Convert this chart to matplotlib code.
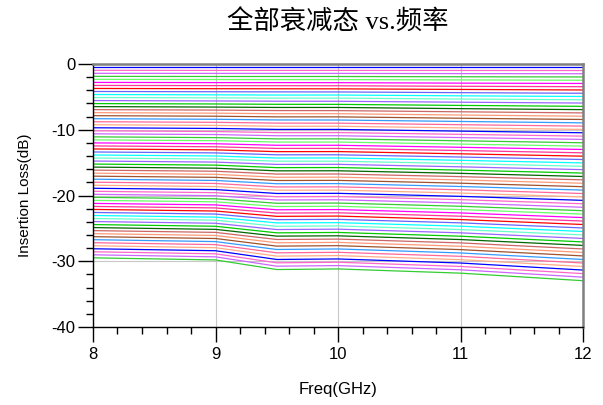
import matplotlib
matplotlib.use("Agg")
import matplotlib.pyplot as plt
from matplotlib.ticker import MultipleLocator

# frequency points (GHz)
freq = [8, 9, 9.5, 10, 11, 12]

# insertion loss (dB) of every attenuation state per frequency
il_8 = [-0.50, -0.96, -1.42, -1.88, -2.34, -2.80, -3.26, -3.72, -4.18, -4.64,
        -5.10, -5.56, -6.02, -6.48, -6.94, -7.40, -7.86, -8.32, -8.78, -9.24,
        -9.70, -10.16, -10.62, -11.08, -11.54, -12.00, -12.46, -12.92, -13.38, -13.84,
        -14.30, -14.76, -15.22, -15.68, -16.14, -16.60, -17.06, -17.52, -17.98, -18.44,
        -18.90, -19.36, -19.82, -20.28, -20.74, -21.20, -21.66, -22.12, -22.58, -23.04,
        -23.50, -23.96, -24.42, -24.88, -25.34, -25.80, -26.26, -26.72, -27.18, -27.64,
        -28.10, -28.56, -29.02, -29.48]
il_9 = [-0.50, -0.97, -1.43, -1.90, -2.36, -2.83, -3.29, -3.76, -4.22, -4.69,
        -5.15, -5.62, -6.08, -6.55, -7.01, -7.48, -7.94, -8.41, -8.87, -9.34,
        -9.80, -10.27, -10.73, -11.20, -11.66, -12.13, -12.59, -13.06, -13.52, -13.99,
        -14.45, -14.92, -15.38, -15.85, -16.31, -16.78, -17.24, -17.71, -18.17, -18.64,
        -19.10, -19.57, -20.03, -20.50, -20.96, -21.43, -21.89, -22.36, -22.82, -23.29,
        -23.75, -24.22, -24.68, -25.15, -25.61, -26.08, -26.54, -27.01, -27.47, -27.94,
        -28.40, -28.87, -29.33, -29.80]
il_95 = [-0.50, -0.97, -1.43, -1.90, -2.37, -2.83, -3.30, -3.77, -4.24, -4.72,
         -5.19, -5.66, -6.13, -6.61, -7.08, -7.56, -8.04, -8.51, -8.99, -9.47,
         -9.95, -10.43, -10.91, -11.39, -11.87, -12.36, -12.84, -13.33, -13.81, -14.30,
         -14.78, -15.27, -15.76, -16.25, -16.74, -17.23, -17.72, -18.21, -18.70, -19.20,
         -19.69, -20.19, -20.68, -21.18, -21.68, -22.17, -22.67, -23.17, -23.67, -24.17,
         -24.68, -25.18, -25.68, -26.18, -26.69, -27.19, -27.70, -28.21, -28.72, -29.22,
         -29.73, -30.24, -30.75, -31.26]
il_10 = [-0.50, -0.97, -1.43, -1.90, -2.37, -2.84, -3.31, -3.78, -4.25, -4.72,
         -5.19, -5.67, -6.14, -6.61, -7.09, -7.56, -8.04, -8.52, -9.00, -9.47,
         -9.95, -10.43, -10.91, -11.39, -11.87, -12.36, -12.84, -13.32, -13.81, -14.29,
         -14.78, -15.26, -15.75, -16.24, -16.73, -17.21, -17.70, -18.19, -18.69, -19.18,
         -19.67, -20.16, -20.65, -21.15, -21.64, -22.14, -22.63, -23.13, -23.63, -24.13,
         -24.63, -25.12, -25.62, -26.13, -26.63, -27.13, -27.63, -28.13, -28.64, -29.14,
         -29.65, -30.15, -30.66, -31.17]
il_11 = [-0.50, -0.98, -1.46, -1.94, -2.42, -2.91, -3.39, -3.87, -4.36, -4.84,
         -5.33, -5.81, -6.30, -6.79, -7.27, -7.76, -8.25, -8.74, -9.23, -9.72,
         -10.21, -10.70, -11.19, -11.68, -12.18, -12.67, -13.16, -13.66, -14.15, -14.65,
         -15.14, -15.64, -16.14, -16.63, -17.13, -17.63, -18.13, -18.63, -19.13, -19.63,
         -20.13, -20.63, -21.14, -21.64, -22.14, -22.65, -23.15, -23.66, -24.16, -24.67,
         -25.18, -25.68, -26.19, -26.70, -27.21, -27.72, -28.23, -28.74, -29.25, -29.76,
         -30.27, -30.79, -31.30, -31.81]
il_12 = [-0.50, -0.99, -1.48, -1.97, -2.47, -2.96, -3.45, -3.95, -4.45, -4.94,
         -5.44, -5.94, -6.44, -6.94, -7.44, -7.94, -8.44, -8.95, -9.45, -9.95,
         -10.46, -10.97, -11.47, -11.98, -12.49, -13.00, -13.51, -14.02, -14.53, -15.05,
         -15.56, -16.07, -16.59, -17.11, -17.62, -18.14, -18.66, -19.18, -19.70, -20.22,
         -20.74, -21.26, -21.79, -22.31, -22.83, -23.36, -23.89, -24.41, -24.94, -25.47,
         -26.00, -26.53, -27.06, -27.59, -28.13, -28.66, -29.19, -29.73, -30.27, -30.80,
         -31.34, -31.88, -32.42, -32.96]

trace_colors = ['#0000ff', '#ff66cc', '#cc66ff', '#33cc33', '#66ff66', '#ff00ff',
                '#ff3399', '#ff0000', '#6666ff', '#00ffff', '#66ffcc', '#9966ff',
                '#00cc00', '#006600', '#cc6666', '#ff9977', '#a0522d', '#3399ff',
                '#ff6699', '#ffaa88']

plt.rcParams['font.family'] = ['Liberation Sans', 'DejaVu Sans']
plt.rcParams['axes.unicode_minus'] = False

fig = plt.figure(figsize=(6.03, 4.05), dpi=100)
ax = fig.add_axes([93/603, 1-327/405, 490/603, 263/405])

for k in range(len(il_8)):
    vals = [il_8[k], il_9[k], il_95[k], il_10[k], il_11[k], il_12[k]]
    ax.plot(freq, vals, color=trace_colors[k % len(trace_colors)], lw=0.9)

ax.set_xlim(8, 12)
ax.set_ylim(-40, 0)
ax.xaxis.set_major_locator(MultipleLocator(1))
ax.xaxis.set_minor_locator(MultipleLocator(0.2))
ax.yaxis.set_major_locator(MultipleLocator(10))
ax.yaxis.set_minor_locator(MultipleLocator(2))
ax.tick_params(which='major', direction='out', length=10.5, width=1, labelsize=12, pad=4)
ax.tick_params(which='minor', direction='out', length=5, width=1)
ax.tick_params(axis='y', pad=2)
ax.set_axisbelow(True)
ax.grid(True, which='major', color='#c8c8c8', lw=0.8)

for s in ['left', 'bottom']:
    ax.spines[s].set_linewidth(1)
for s in ['top', 'right']:
    ax.spines[s].set_color('#808080')
    ax.spines[s].set_linewidth(1.8)

ax.set_xlabel('Freq(GHz)', fontsize=12, labelpad=14)
ax.set_ylabel('Insertion Loss(dB)', fontsize=11, labelpad=14)

fig.text(338/603, 1-22/405, '全部衰减态 vs.频率', ha='center', va='center',
         fontsize=19, family=['Liberation Serif', 'Noto Sans CJK SC'])

fig.savefig('out.png', dpi=100)
